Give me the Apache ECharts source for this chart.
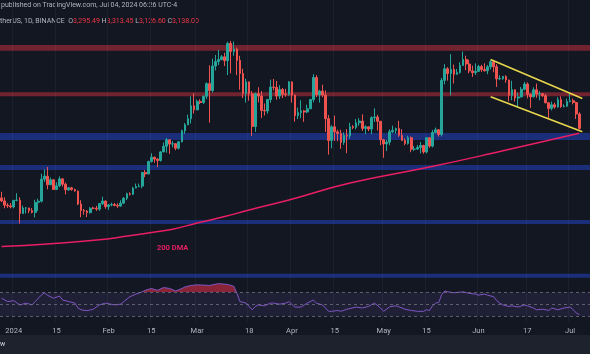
<!DOCTYPE html>
<html>
<head>
<meta charset="utf-8">
<script src="https://cdn.jsdelivr.net/npm/echarts@6/dist/echarts.min.js"></script>
<style>
  html, body { margin: 0; padding: 0; background: #131722; }
  #chart { width: 590px; height: 354px; }
</style>
</head>
<body>
<div id="chart"></div>
<script>
// daily candles, each row is [open, close, low, high]
const candlesDec = [
  [2379, 2346, 2334, 2446], [2346, 2300, 2265, 2386], [2300, 2292, 2270, 2322], [2292, 2281, 2265, 2324]
];
const candlesJan = [
  [2281, 2352, 2265, 2353], [2352, 2355, 2341, 2430], [2355, 2209, 2100, 2385], [2209, 2268, 2205, 2294],
  [2268, 2269, 2209, 2280], [2269, 2240, 2213, 2272], [2240, 2221, 2210, 2268], [2221, 2331, 2165, 2358],
  [2331, 2343, 2237, 2370], [2343, 2584, 2330, 2644], [2584, 2617, 2554, 2690], [2617, 2523, 2473, 2717],
  [2523, 2577, 2519, 2601], [2577, 2471, 2467, 2585], [2471, 2511, 2470, 2550], [2511, 2587, 2497, 2614],
  [2587, 2529, 2503, 2589], [2529, 2467, 2417, 2547], [2467, 2490, 2455, 2496], [2490, 2470, 2457, 2500],
  [2470, 2455, 2447, 2480], [2455, 2312, 2300, 2458], [2312, 2241, 2168, 2354], [2241, 2235, 2196, 2258],
  [2235, 2218, 2170, 2247], [2218, 2267, 2209, 2278], [2267, 2266, 2254, 2283], [2266, 2257, 2238, 2292],
  [2257, 2317, 2238, 2322], [2317, 2345, 2300, 2392], [2345, 2283, 2260, 2350]
];
const candlesFeb = [
  [2283, 2303, 2248, 2311], [2303, 2307, 2288, 2327], [2307, 2297, 2288, 2325], [2297, 2290, 2270, 2320],
  [2290, 2322, 2283, 2354], [2322, 2375, 2312, 2388], [2375, 2424, 2355, 2436], [2424, 2419, 2405, 2441],
  [2419, 2486, 2410, 2500], [2486, 2503, 2485, 2536], [2503, 2508, 2495, 2536], [2508, 2657, 2485, 2664],
  [2657, 2640, 2605, 2683], [2640, 2776, 2640, 2786], [2776, 2823, 2765, 2866], [2823, 2803, 2762, 2831],
  [2803, 2788, 2715, 2810], [2788, 2881, 2775, 2890], [2881, 2943, 2880, 2985], [2943, 3014, 2872, 3033],
  [3014, 2967, 2860, 3015], [2967, 2971, 2931, 3000], [2971, 2922, 2900, 2978], [2922, 2991, 2908, 3000],
  [2991, 3112, 2986, 3124], [3112, 3177, 3079, 3196], [3177, 3244, 3175, 3288], [3244, 3384, 3191, 3488],
  [3384, 3340, 3300, 3522]
];
const candlesMar = [
  [3340, 3433, 3340, 3452], [3433, 3421, 3403, 3456], [3421, 3489, 3404, 3497], [3489, 3627, 3458, 3640],
  [3627, 3552, 3200, 3827], [3552, 3818, 3530, 3900], [3818, 3868, 3771, 3940], [3868, 3889, 3829, 3995],
  [3889, 3920, 3883, 3940], [3920, 3878, 3820, 3963], [3878, 4066, 3721, 4084], [4066, 3979, 3739, 4093],
  [3979, 4005, 3931, 4087], [4005, 3881, 3720, 4020], [3881, 3737, 3560, 3930], [3737, 3520, 3470, 3790],
  [3520, 3646, 3420, 3680], [3646, 3516, 3440, 3650], [3516, 3159, 3056, 3545], [3159, 3516, 3100, 3530],
  [3516, 3492, 3422, 3588], [3492, 3335, 3251, 3546], [3335, 3329, 3279, 3410], [3329, 3453, 3300, 3460],
  [3453, 3589, 3418, 3670], [3589, 3586, 3553, 3678], [3586, 3492, 3452, 3657], [3492, 3562, 3460, 3610],
  [3562, 3511, 3470, 3580], [3511, 3507, 3485, 3570], [3507, 3646, 3495, 3655]
];
const candlesApr = [
  [3646, 3502, 3420, 3650], [3502, 3278, 3212, 3505], [3278, 3311, 3240, 3365], [3311, 3329, 3250, 3445],
  [3329, 3317, 3210, 3340], [3317, 3352, 3305, 3397], [3352, 3454, 3350, 3460], [3454, 3694, 3423, 3730],
  [3694, 3505, 3480, 3720], [3505, 3545, 3420, 3560], [3545, 3502, 3480, 3615], [3502, 3244, 3100, 3553],
  [3244, 3007, 2852, 3283], [3007, 3155, 2920, 3172], [3155, 3100, 3000, 3278], [3100, 3083, 2998, 3124],
  [3083, 2985, 2916, 3124], [2985, 3063, 2958, 3094], [3063, 3056, 2867, 3130], [3056, 3157, 3026, 3200],
  [3157, 3148, 3131, 3174], [3148, 3199, 3128, 3240], [3199, 3218, 3165, 3250], [3218, 3138, 3110, 3291],
  [3138, 3155, 3075, 3172], [3155, 3131, 3107, 3158], [3131, 3255, 3076, 3270], [3255, 3263, 3208, 3357],
  [3263, 3216, 3115, 3287], [3216, 3014, 2955, 3218]
];
const candlesMay = [
  [3014, 2969, 2817, 3024], [2969, 2988, 2891, 3012], [2988, 3102, 2954, 3127], [3102, 3117, 3087, 3168],
  [3117, 3137, 3081, 3147], [3137, 3063, 3045, 3221], [3063, 3006, 3000, 3130], [3006, 2974, 2954, 3029],
  [2974, 3037, 2960, 3058], [3037, 2910, 2878, 3051], [2910, 2912, 2890, 2945], [2912, 2929, 2903, 2957],
  [2929, 2951, 2865, 2990], [2951, 2881, 2860, 2960], [2881, 3036, 2865, 3042], [3036, 2945, 2925, 3042],
  [2945, 3093, 2930, 3121], [3093, 3123, 3083, 3147], [3123, 3071, 3048, 3132], [3071, 3663, 3050, 3690],
  [3663, 3789, 3620, 3840], [3789, 3737, 3660, 3808], [3737, 3782, 3500, 3949], [3782, 3728, 3628, 3835],
  [3728, 3749, 3723, 3787], [3749, 3826, 3736, 3860], [3826, 3891, 3820, 3977], [3891, 3841, 3773, 3932],
  [3841, 3766, 3740, 3887], [3766, 3747, 3700, 3824], [3747, 3761, 3722, 3848]
];
const candlesJun = [
  [3761, 3813, 3756, 3832], [3813, 3780, 3755, 3832], [3780, 3767, 3758, 3849], [3767, 3810, 3730, 3830],
  [3810, 3865, 3782, 3887], [3865, 3812, 3752, 3877], [3812, 3679, 3590, 3840], [3679, 3682, 3665, 3718],
  [3682, 3706, 3667, 3710], [3706, 3667, 3636, 3718], [3667, 3499, 3432, 3669], [3499, 3560, 3445, 3658],
  [3560, 3469, 3431, 3562], [3469, 3482, 3362, 3528], [3482, 3566, 3477, 3590], [3566, 3622, 3553, 3646],
  [3622, 3511, 3466, 3640], [3511, 3483, 3361, 3518], [3483, 3559, 3476, 3587], [3559, 3513, 3472, 3628],
  [3513, 3517, 3445, 3545], [3517, 3495, 3482, 3522], [3495, 3418, 3412, 3517], [3418, 3356, 3240, 3425],
  [3356, 3396, 3335, 3431], [3396, 3372, 3353, 3418], [3372, 3452, 3365, 3480], [3452, 3377, 3362, 3488],
  [3377, 3380, 3367, 3401], [3380, 3432, 3375, 3463]
];
const candlesJul = [
  [3432, 3441, 3421, 3524], [3441, 3421, 3400, 3463], [3421, 3295, 3240, 3430], [3295.49, 3138, 3126.6, 3313.45]
];

// 200-day moving average
const dmaPoints = [
  ['2023-12-28', 1848], ['2024-01-12', 1877], ['2024-01-29', 1921], ['2024-02-06', 1957],
  ['2024-02-14', 1997], ['2024-02-22', 2037], ['2024-03-01', 2106], ['2024-03-10', 2175],
  ['2024-03-18', 2248], ['2024-03-31', 2357], ['2024-04-20', 2542], ['2024-05-16', 2716],
  ['2024-06-08', 2885], ['2024-07-04', 3085]
];

// RSI
const rsiPoints = [
  ['2023-12-28', 60], ['2023-12-30', 54.5], ['2024-01-01', 56], ['2024-01-03', 49], ['2024-01-05', 52],
  ['2024-01-07', 49], ['2024-01-08', 54.5], ['2024-01-10', 65], ['2024-01-11', 69], ['2024-01-12', 65],
  ['2024-01-14', 60], ['2024-01-16', 63.6], ['2024-01-17', 57], ['2024-01-19', 54.5], ['2024-01-21', 52],
  ['2024-01-22', 44], ['2024-01-23', 41], ['2024-01-25', 39.6], ['2024-01-27', 42], ['2024-01-29', 49],
  ['2024-01-31', 52], ['2024-02-03', 49], ['2024-02-05', 50.3], ['2024-02-06', 54.5], ['2024-02-08', 62.5],
  ['2024-02-10', 66.8], ['2024-02-12', 70.5], ['2024-02-13', 73], ['2024-02-15', 76], ['2024-02-17', 73],
  ['2024-02-19', 77.5], ['2024-02-21', 76], ['2024-02-23', 72], ['2024-02-25', 76], ['2024-02-26', 78.5],
  ['2024-02-28', 81], ['2024-03-01', 82], ['2024-03-05', 81], ['2024-03-08', 84], ['2024-03-11', 82.6],
  ['2024-03-13', 79.6], ['2024-03-14', 68], ['2024-03-15', 54.5], ['2024-03-17', 52], ['2024-03-19', 41],
  ['2024-03-20', 46.5], ['2024-03-21', 49], ['2024-03-23', 47.6], ['2024-03-25', 52], ['2024-03-26', 52],
  ['2024-03-28', 50.3], ['2024-03-30', 52], ['2024-03-31', 54.5], ['2024-04-02', 45.5], ['2024-04-04', 45.5],
  ['2024-04-06', 52], ['2024-04-08', 57], ['2024-04-09', 52], ['2024-04-11', 49], ['2024-04-13', 38.5],
  ['2024-04-14', 38.5], ['2024-04-16', 40], ['2024-04-17', 38.5], ['2024-04-19', 42], ['2024-04-22', 45.5],
  ['2024-04-24', 44], ['2024-04-26', 46.5], ['2024-04-28', 52], ['2024-04-30', 44], ['2024-05-01', 38.5],
  ['2024-05-03', 46], ['2024-05-05', 47.6], ['2024-05-07', 44], ['2024-05-08', 42], ['2024-05-10', 40],
  ['2024-05-12', 38.5], ['2024-05-14', 38.5], ['2024-05-15', 41], ['2024-05-16', 40], ['2024-05-17', 47.6],
  ['2024-05-18', 52], ['2024-05-19', 53], ['2024-05-20', 66], ['2024-05-21', 72], ['2024-05-22', 70.5],
  ['2024-05-24', 69], ['2024-05-26', 70], ['2024-05-27', 70.5], ['2024-05-29', 68], ['2024-05-31', 66.8],
  ['2024-06-01', 65], ['2024-06-03', 66.8], ['2024-06-04', 65], ['2024-06-06', 62.5], ['2024-06-07', 56],
  ['2024-06-08', 52], ['2024-06-09', 49], ['2024-06-11', 46.5], ['2024-06-12', 47.6], ['2024-06-14', 45.5],
  ['2024-06-16', 49], ['2024-06-17', 47.6], ['2024-06-19', 44], ['2024-06-20', 41], ['2024-06-22', 42],
  ['2024-06-24', 40], ['2024-06-25', 44], ['2024-06-27', 41], ['2024-06-29', 44], ['2024-07-01', 45.5],
  ['2024-07-02', 41], ['2024-07-03', 36], ['2024-07-04', 33]
];

// horizontal zones [low, high]
const redZones = [[3985, 4050], [3490, 3534]];
const blueZones = [[3011, 3087], [2684, 2738], [2095, 2139], [1506, 1550]];

// descending channel
const channelTop = [['2024-06-05', 3890], ['2024-07-05', 3465]];
const channelBottom = [['2024-06-05', 3483], ['2024-07-05', 3101]];

const tickDates = ['2024-01-01', '2024-01-15', '2024-02-01', '2024-02-15', '2024-03-01', '2024-03-18',
  '2024-04-01', '2024-04-15', '2024-05-01', '2024-05-15', '2024-06-01', '2024-06-17', '2024-07-01'];
const tickLabels = ['2024', '15', 'Feb', '15', 'Mar', '18', 'Apr', '15', 'May', '15', 'Jun', '17', 'Jul'];

// category axis: one slot per day, a few empty days after the last candle
const dates = [];
const firstDay = Date.UTC(2023, 11, 28);
for (let i = 0; i < 193; i++) {
  dates.push(new Date(firstDay + i * 86400000).toISOString().slice(0, 10));
}
const candles = [].concat(candlesDec, candlesJan, candlesFeb, candlesMar, candlesApr, candlesMay, candlesJun, candlesJul);

const isTick = (index, value) => tickDates.includes(value);
const zoneItems = redZones.map((z) => [
  { yAxis: z[0], itemStyle: { color: 'rgba(242, 54, 69, 0.42)' } },
  { yAxis: z[1] }
]).concat(blueZones.map((z) => [
  { yAxis: z[0], itemStyle: { color: 'rgba(41, 82, 255, 0.4)' } },
  { yAxis: z[1] }
]));

const chart = echarts.init(document.getElementById('chart'), null, { renderer: 'canvas' });

chart.setOption({
  backgroundColor: '#131722',
  animation: false,
  textStyle: { fontFamily: 'Roboto' },
  grid: [
    { left: 0, right: 0, top: 0, height: 283 },
    { left: 0, right: 0, top: 283, height: 39 }
  ],
  xAxis: [
    {
      type: 'category', gridIndex: 0, data: dates, boundaryGap: true,
      axisLine: { show: false }, axisTick: { show: false }, axisLabel: { show: false },
      splitLine: { show: true, interval: isTick, lineStyle: { color: '#1c202c', width: 1 } }
    },
    {
      type: 'category', gridIndex: 1, data: dates, boundaryGap: true,
      axisLine: { show: false }, axisTick: { show: false },
      axisLabel: {
        interval: isTick,
        formatter: (value) => tickLabels[tickDates.indexOf(value)] || '',
        color: '#b2b5be', fontSize: 7.5, margin: 5
      },
      splitLine: { show: true, interval: isTick, lineStyle: { color: '#1c202c', width: 1 } }
    }
  ],
  yAxis: [
    { type: 'value', gridIndex: 0, min: 1450, max: 4540, show: false, splitLine: { show: false } },
    { type: 'value', gridIndex: 1, min: 21, max: 85, show: false, splitLine: { show: false } }
  ],
  visualMap: [{
    type: 'piecewise', show: false, seriesIndex: 5, dimension: 1,
    pieces: [
      { min: 70, max: 100, color: 'rgba(178, 40, 62, 0.75)' },
      { min: 0, max: 70, color: 'rgba(19, 23, 34, 0)' }
    ]
  }],
  series: [
    {
      name: 'price', type: 'candlestick', xAxisIndex: 0, yAxisIndex: 0,
      data: candles, barWidth: '72%',
      itemStyle: {
        color: '#26a69a', color0: '#ef5350',
        borderColor: '#26a69a', borderColor0: '#ef5350', borderWidth: 1
      }
    },
    {
      name: 'zones', type: 'line', xAxisIndex: 0, yAxisIndex: 0, data: [],
      markArea: { silent: true, data: zoneItems }
    },
    {
      name: '200 DMA', type: 'line', xAxisIndex: 0, yAxisIndex: 0,
      data: dmaPoints, smooth: true, showSymbol: false,
      lineStyle: { color: '#e91e63', width: 1.5 }
    },
    {
      name: 'channel top', type: 'line', xAxisIndex: 0, yAxisIndex: 0,
      data: channelTop, showSymbol: false,
      lineStyle: { color: '#e9d84c', width: 1.5 }
    },
    {
      name: 'channel bottom', type: 'line', xAxisIndex: 0, yAxisIndex: 0,
      data: channelBottom, showSymbol: false,
      lineStyle: { color: '#e9d84c', width: 1.5 }
    },
    {
      name: 'rsi fill', type: 'line', xAxisIndex: 1, yAxisIndex: 1,
      data: rsiPoints, showSymbol: false,
      lineStyle: { width: 0 },
      areaStyle: { origin: 70, opacity: 1 }
    },
    {
      name: 'rsi', type: 'line', xAxisIndex: 1, yAxisIndex: 1,
      data: rsiPoints, showSymbol: false,
      lineStyle: { color: '#7e57c2', width: 1 },
      markArea: {
        silent: true,
        data: [[{ yAxis: 30, itemStyle: { color: 'rgba(126, 87, 194, 0.12)' } }, { yAxis: 70 }]]
      },
      markLine: {
        silent: true, symbol: ['none', 'none'], label: { show: false },
        lineStyle: { color: '#787b86', type: [3, 3], width: 1, opacity: 0.7 },
        data: [{ yAxis: 70 }, { yAxis: 50 }, { yAxis: 30 }]
      }
    }
  ],
  graphic: [
    {
      type: 'text', left: 1, top: 2,
      style: { text: 'published on TradingView.com, Jul 04, 2024 06:26 UTC-4', fill: '#b2b5be', font: '7px Roboto' }
    },
    {
      type: 'text', left: 0, top: 18,
      style: {
        text: '{g|therUS, 1D, BINANCE  O}{r|3,295.49}{g| H}{r|3,313.45}{g| L}{r|3,126.60}{g| C}{r|3,138.00}',
        font: '7px Roboto',
        rich: {
          g: { fill: '#b2b5be', fontSize: 7, fontFamily: 'Roboto' },
          r: { fill: '#f23645', fontSize: 7, fontFamily: 'Roboto' }
        }
      }
    },
    {
      type: 'text', left: 157, top: 244,
      style: { text: '200 DMA', fill: '#e91e63', font: 'bold 7.5px Roboto' }
    },
    {
      type: 'rect', left: 0, top: 335, z: 10,
      shape: { width: 590, height: 19 },
      style: { fill: '#1e222d' }
    },
    {
      type: 'text', left: 0, top: 341, z: 11,
      style: { text: 'w', fill: '#d1d4dc', font: '7px Roboto' }
    }
  ]
});
</script>
</body>
</html>
